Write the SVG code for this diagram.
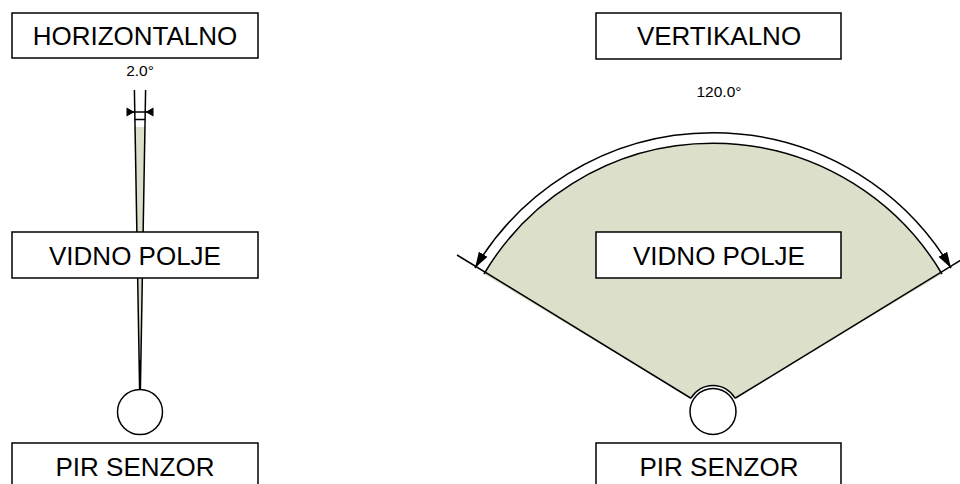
<svg xmlns="http://www.w3.org/2000/svg" width="960" height="484" viewBox="0 0 960 484">
<defs>
<style>
.box{fill:#fff;stroke:#000;stroke-width:1.5}
.lbl{font-family:"Liberation Sans",Arial,sans-serif;font-size:26px;fill:#000;text-anchor:middle}
.dim{font-family:"Liberation Sans",Arial,sans-serif;font-size:15.5px;fill:#000;text-anchor:middle}
.sensor{fill:#fff;stroke:#000;stroke-width:1.5}
.fov{fill:#dcdfc9}
.edge{stroke:#000;stroke-width:1.5;fill:none}
</style>
<marker id="ah" markerUnits="userSpaceOnUse" markerWidth="16" markerHeight="10" viewBox="0 0 16 10" refX="16" refY="5" orient="auto-start-reverse">
<path d="M0,0 L16,5 L0,10 z" fill="#000"/>
</marker>
</defs>
<rect width="960" height="484" fill="#fff"/>

<g id="connectors">
<!-- left horizontal wedge -->
<polygon class="fov" points="139.6,389 135,127 145,127 140.4,389"/>
<line class="edge" stroke-width="1" x1="139.6" y1="389" x2="134.4" y2="90"/>
<line class="edge" stroke-width="1" x1="140.4" y1="389" x2="145.6" y2="90"/>
<line class="edge" stroke-width="1" x1="134.5" y1="119.5" x2="145.5" y2="119.5"/>
<line class="edge" stroke-width="1" x1="127" y1="112" x2="153" y2="112"/>
<polygon points="134.5,112 126.5,107.5 126.5,116.5" fill="#000"/>
<polygon points="145.5,112 153.5,107.5 153.5,116.5" fill="#000"/>
<line x1="140" y1="389" x2="140" y2="360" stroke="#000" stroke-width="2"/>

<!-- right vertical fan -->
<path class="fov" d="M690.9 398.25 L484 274 A266 266 0 0 1 942 274 L735.1 398.25 A25.5 25.5 0 0 0 690.9 398.25 Z"/>
<path class="edge" d="M484 274 A266 266 0 0 1 942 274"/>
<path class="edge" d="M735.1 398.25 A25.5 25.5 0 0 0 690.9 398.25"/>
<line class="edge" x1="690.9" y1="398.25" x2="457" y2="255"/>
<line class="edge" x1="735.1" y1="398.25" x2="969" y2="255"/>
<path class="edge" d="M475 268 A277 277 0 0 1 951 268" marker-start="url(#ah)" marker-end="url(#ah)"/>
</g>

<g id="label-2deg"><text class="dim" x="140" y="76">2.0°</text></g>
<g id="label-120deg"><text class="dim" x="719" y="97">120.0°</text></g>

<g id="horizontalno"><rect class="box" x="12" y="13" width="246" height="45"/><text class="lbl" x="135" y="45">HORIZONTALNO</text></g>
<g id="vidno-polje-left"><rect class="box" x="12" y="232" width="246" height="46"/><text class="lbl" x="135" y="265">VIDNO POLJE</text></g>
<g id="sensor-left"><circle class="sensor" cx="140" cy="412" r="22.5"/></g>
<g id="pir-left"><rect class="box" x="12" y="443" width="246" height="50"/><text class="lbl" x="135" y="476">PIR SENZOR</text></g>

<g id="vertikalno"><rect class="box" x="596" y="13" width="245" height="46"/><text class="lbl" x="719" y="45">VERTIKALNO</text></g>
<g id="vidno-polje-right"><rect class="box" x="596" y="232" width="245" height="46"/><text class="lbl" x="719" y="265">VIDNO POLJE</text></g>
<g id="sensor-right"><circle class="sensor" cx="713" cy="411.5" r="23"/></g>
<g id="pir-right"><rect class="box" x="596" y="443" width="245" height="50"/><text class="lbl" x="719" y="476">PIR SENZOR</text></g>
</svg>
